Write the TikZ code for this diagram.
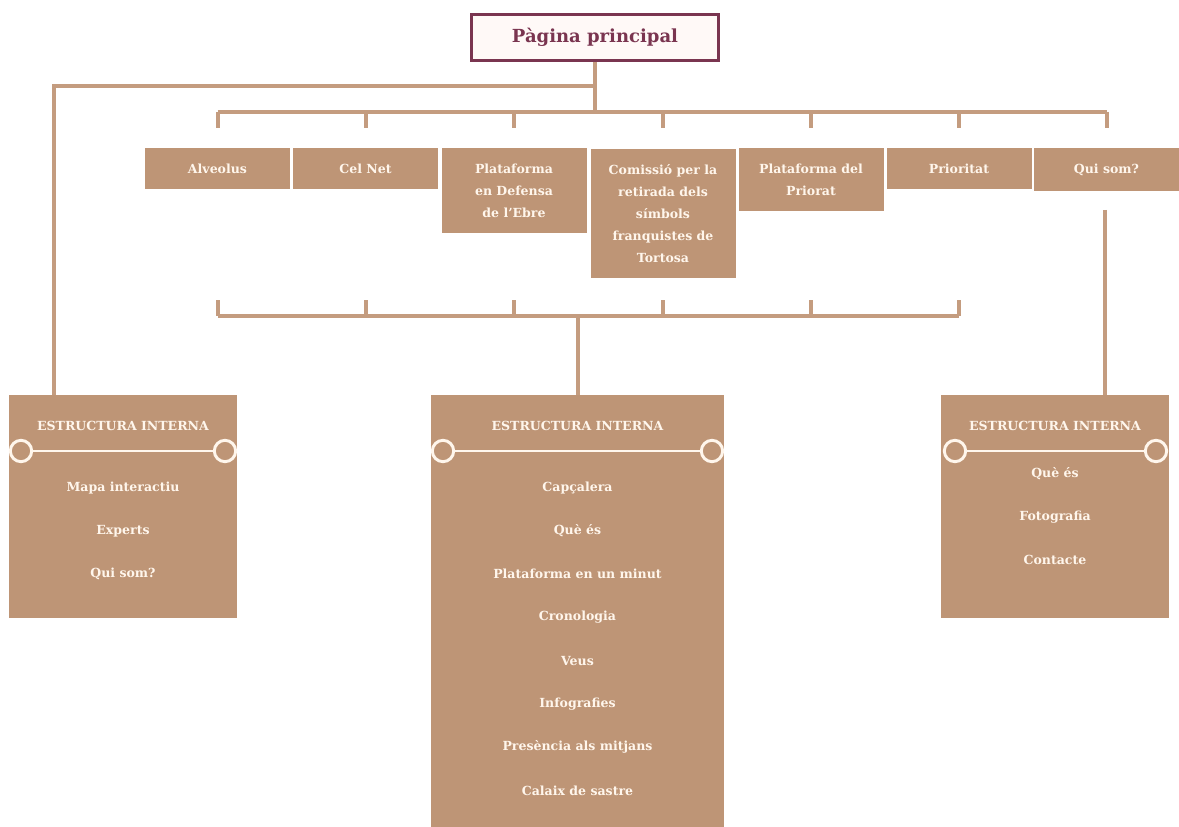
\documentclass[tikz,border=0pt]{standalone}
\usepackage{fontspec}
\setmainfont{DejaVu Serif}
\usepackage{tikz}

\definecolor{tan}{HTML}{BE9576}
\definecolor{linetan}{HTML}{C49C7F}
\definecolor{maroon}{HTML}{7A3550}
\definecolor{cream}{HTML}{FFF6EC}
\definecolor{paper}{HTML}{FFF9F7}

\tikzset{
    link/.style={draw=linetan, line width=3pt},
    rail/.style={draw=cream, line width=2.2pt},
    homebox/.style={shape=rectangle, draw=maroon, line width=2.2pt, fill=paper, text=maroon,
        font=\bfseries\fontsize{13.5}{16}\selectfont, minimum width=185pt, minimum height=34.5pt},
    section/.style={shape=rectangle, fill=tan, text=cream, anchor=north, align=center,
        font=\bfseries\fontsize{9.4}{16.5}\selectfont, minimum width=108.75pt, inner ysep=11.5pt},
    panel/.style={shape=rectangle, fill=tan, anchor=north, inner sep=0pt},
    head/.style={text=cream, font=\bfseries\fontsize{9.4}{11}\selectfont},
    item/.style={text=cream, font=\bfseries\fontsize{9.4}{11}\selectfont},
    ring/.style={shape=circle, draw=cream, fill=tan, line width=2.2pt, minimum size=16pt, inner sep=0pt}
}

\begin{document}
\begin{tikzpicture}[x=0.75pt, y=-0.75pt]
    \useasboundingbox (0,0) rectangle (1179,827);

    % home page
    \node[homebox] at (595,37.5) (home) {Pàgina principal};

    % sections
    \node[section] at (217.5,148) (alv) {Alveolus};
    \node[section] at (365.5,148) (cel) {Cel Net};
    \node[section] at (514,148) (ebre) {Plataforma\\en Defensa\\de l'Ebre};
    \node[section] at (663,149) (com) {Comissió per la\\retirada dels\\símbols\\franquistes de\\Tortosa};
    \node[section] at (811,148) (pri) {Plataforma del\\Priorat};
    \node[section] at (959,148) (prt) {Prioritat};
    \node[section] at (1106.5,148) (qui) {Qui som?};

    % internal structures
    \node[panel, minimum width=171pt, minimum height=167.25pt] at (123,395) (left) {};
    \node[panel, minimum width=219.75pt, minimum height=324pt] at (577.5,395) (mid) {};
    \node[panel, minimum width=171pt, minimum height=167.25pt] at (1055,395) (right) {};

    % tree lines
    \coordinate (jleft) at (595,86);
    \coordinate (jtop) at (595,112);
    \coordinate (jbot) at (577.5,316);
    \coordinate (lfoot) at (54,395);
    \coordinate (rhead) at (1105,210);
    \coordinate (rfoot) at (1105,395);
    \draw[link] (home.south) -- (jtop);
    \draw[link] (jleft) -| (lfoot);
    \draw[link] (alv.north |- jtop) -- (qui.north |- jtop);
    \foreach \n in {alv,cel,ebre,com,pri,prt,qui}
        \draw[link] (\n.north |- jtop) -- ++(0,16);
    \draw[link] (alv.north |- jbot) -- (prt.north |- jbot);
    \foreach \n in {alv,cel,ebre,com,pri,prt}
        \draw[link] (\n.north |- jbot) -- ++(0,-16);
    \draw[link] (jbot) -- (mid.north);
    \draw[link] (rhead) -- (rfoot);

    % left panel
    \node[head] at (123,426) (lhead) {ESTRUCTURA INTERNA};
    \node[ring] at (21,451) (lr1) {};
    \node[ring] at (225,451) (lr2) {};
    \draw[rail] (lr1) -- (lr2);
    \node[item] at (123,488) (l1) {Mapa interactiu};
    \node[item] at (123,531) (l2) {Experts};
    \node[item] at (123,574) (l3) {Qui som?};

    % middle panel
    \node[head] at (577.5,426) (mhead) {ESTRUCTURA INTERNA};
    \node[ring] at (443,451) (mr1) {};
    \node[ring] at (712,451) (mr2) {};
    \draw[rail] (mr1) -- (mr2);
    \node[item] at (577.5,488) (m1) {Capçalera};
    \node[item] at (577.5,531) (m2) {Què és};
    \node[item] at (577.5,574) (m3) {Plataforma en un minut};
    \node[item] at (577.5,617) (m4) {Cronologia};
    \node[item] at (577.5,661) (m5) {Veus};
    \node[item] at (577.5,704) (m6) {Infografies};
    \node[item] at (577.5,747) (m7) {Presència als mitjans};
    \node[item] at (577.5,791) (m8) {Calaix de sastre};

    % right panel
    \node[head] at (1055,426) (rhd) {ESTRUCTURA INTERNA};
    \node[ring] at (955,451) (rr1) {};
    \node[ring] at (1156,451) (rr2) {};
    \draw[rail] (rr1) -- (rr2);
    \node[item] at (1055,474) (r1) {Què és};
    \node[item] at (1055,517) (r2) {Fotografia};
    \node[item] at (1055,560) (r3) {Contacte};
\end{tikzpicture}
\end{document}
